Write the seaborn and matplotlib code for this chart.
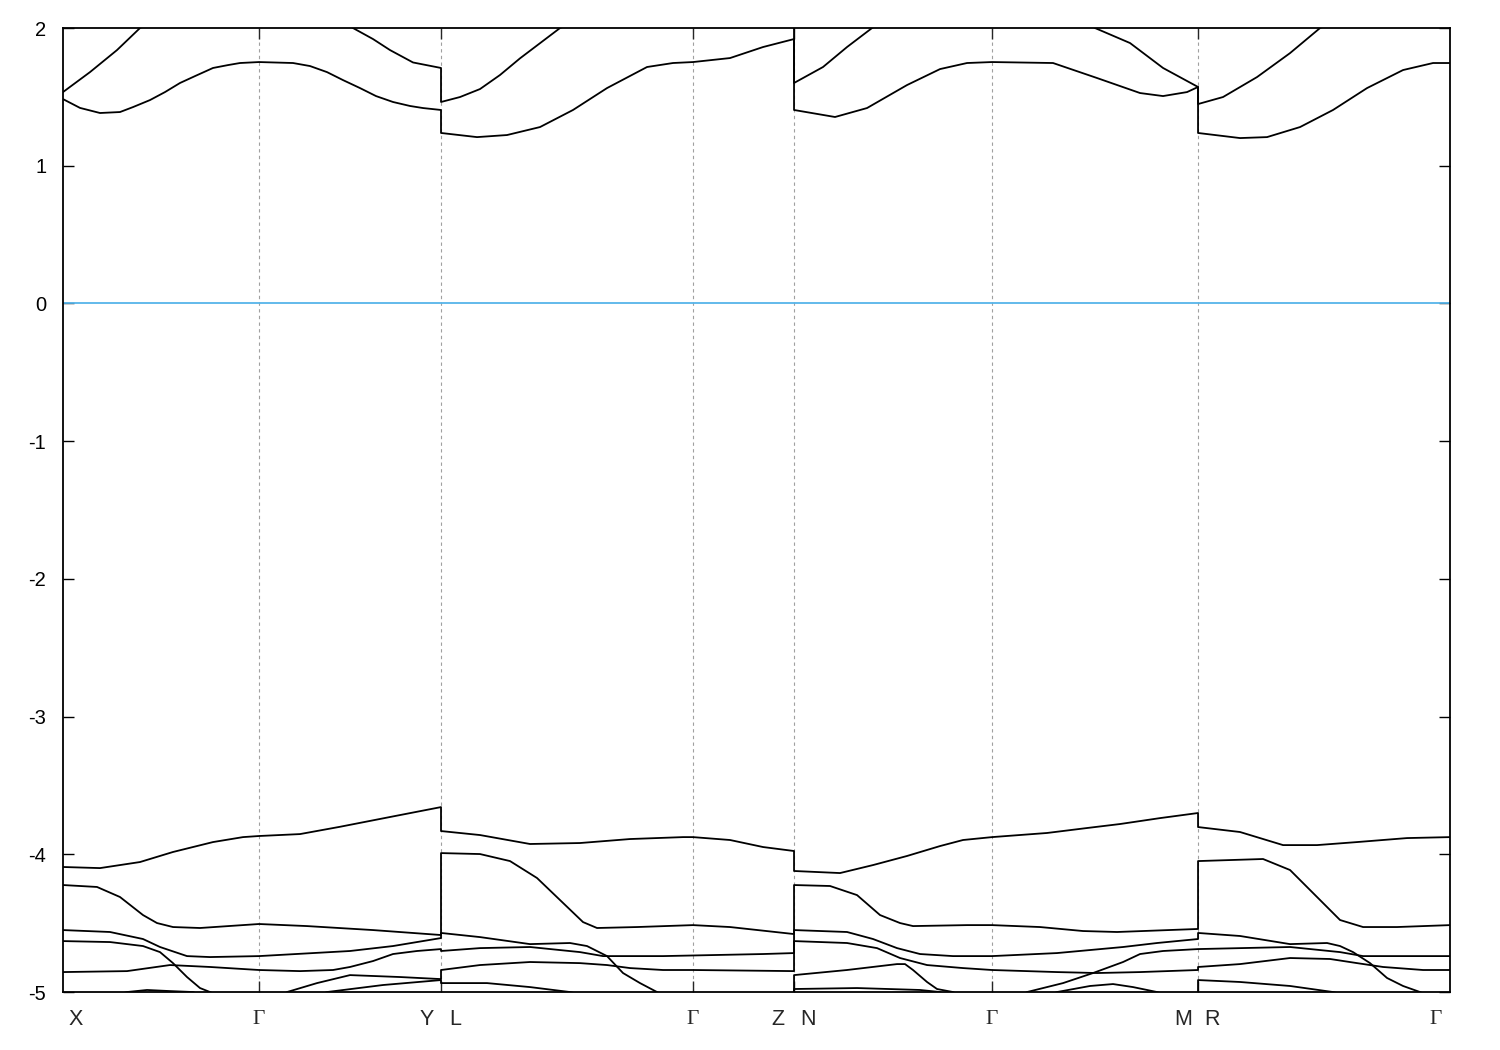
import numpy as np
import pandas as pd
import matplotlib
matplotlib.use("Agg")
import matplotlib.pyplot as plt
import seaborn as sns
from matplotlib import transforms

sns.set_style("white")
plt.rcParams["font.family"] = ["Liberation Sans", "DejaVu Sans"]
plt.rcParams["axes.unicode_minus"] = False

# -------------------------------------------------------------------------
# k-path (arbitrary path length) and labels
# -------------------------------------------------------------------------
KPATH_END = 1.387
KPOINT_INNER = [0.196, 0.378, 0.630, 0.731, 0.929, 1.135]
LABEL_K = [0.000, 0.196, 0.378, 0.378, 0.630, 0.731, 0.731, 0.929, 1.135, 1.135, 1.387]
LABEL_TXT = ["X", "Γ", "Y", "L", "Γ", "Z", "N", "Γ", "M", "R", "Γ"]

# -------------------------------------------------------------------------
# bands (energy in eV); each band runs X→...→Γ
# -------------------------------------------------------------------------
CB2_K = [0.000, 0.027, 0.054, 0.077, 0.196, 0.290, 0.310, 0.327, 0.350, 0.378,
         0.378, 0.397, 0.417, 0.437, 0.457, 0.497, 0.630, 0.731,
         0.731, 0.760, 0.784, 0.809, 0.929, 1.032, 1.067, 1.100, 1.135,
         1.135, 1.160, 1.194, 1.227, 1.257, 1.387]
CB2_E = [1.535, 1.680, 1.840, 2.000, 2.500, 2.000, 1.920, 1.840, 1.750, 1.710,
         1.463, 1.499, 1.557, 1.659, 1.780, 2.000, 2.450, 2.300,
         1.601, 1.717, 1.862, 2.000, 2.500, 2.000, 1.891, 1.710, 1.572,
         1.448, 1.499, 1.644, 1.818, 2.000, 2.500]

CB1_K = [0.000, 0.017, 0.037, 0.057, 0.070, 0.087, 0.102, 0.117, 0.132, 0.150, 0.165, 0.177, 0.196,
         0.230, 0.247, 0.264, 0.280, 0.297, 0.313, 0.330, 0.347, 0.360, 0.378,
         0.378, 0.414, 0.444, 0.477, 0.510, 0.544, 0.584, 0.610, 0.630, 0.667, 0.700, 0.731,
         0.731, 0.772, 0.804, 0.844, 0.877, 0.904, 0.929, 0.990, 1.034, 1.077, 1.100, 1.124, 1.135,
         1.135, 1.177, 1.204, 1.237, 1.270, 1.304, 1.340, 1.370, 1.387]
CB1_E = [1.484, 1.420, 1.383, 1.390, 1.426, 1.477, 1.535, 1.601, 1.651, 1.710, 1.731, 1.746, 1.753,
         1.746, 1.724, 1.680, 1.622, 1.564, 1.506, 1.463, 1.434, 1.419, 1.405,
         1.238, 1.208, 1.223, 1.281, 1.405, 1.564, 1.717, 1.746, 1.753, 1.782, 1.862, 1.920,
         1.405, 1.354, 1.419, 1.586, 1.702, 1.746, 1.753, 1.746, 1.637, 1.528, 1.506, 1.535, 1.572,
         1.238, 1.201, 1.208, 1.281, 1.405, 1.564, 1.695, 1.746, 1.746]

VB1_K = [0.000, 0.037, 0.077, 0.110, 0.150, 0.180, 0.196, 0.237, 0.277, 0.327, 0.378,
         0.378, 0.417, 0.467, 0.517, 0.567, 0.620, 0.630, 0.667, 0.700, 0.731,
         0.731, 0.777, 0.810, 0.844, 0.877, 0.900, 0.929, 0.984, 1.024, 1.057, 1.097, 1.135,
         1.135, 1.177, 1.220, 1.254, 1.294, 1.344, 1.387]
VB1_E = [-4.092, -4.100, -4.056, -3.983, -3.911, -3.875, -3.867, -3.853, -3.800, -3.729, -3.657,
         -3.831, -3.860, -3.925, -3.918, -3.889, -3.875, -3.875, -3.896, -3.947, -3.976,
         -4.121, -4.136, -4.078, -4.012, -3.940, -3.896, -3.875, -3.845, -3.809, -3.780, -3.737, -3.700,
         -3.802, -3.838, -3.933, -3.933, -3.911, -3.882, -3.875]

VB2_K = [0.000, 0.034, 0.057, 0.080, 0.094, 0.110, 0.137, 0.196, 0.244, 0.310, 0.378,
         0.378, 0.417, 0.447, 0.474, 0.497, 0.520, 0.534, 0.574, 0.630, 0.667, 0.731,
         0.731, 0.767, 0.794, 0.817, 0.837, 0.850, 0.904, 0.929, 0.977, 1.020, 1.054, 1.135,
         1.135, 1.200, 1.227, 1.254, 1.277, 1.300, 1.334, 1.387]
VB2_E = [-4.223, -4.237, -4.310, -4.441, -4.499, -4.528, -4.535, -4.506, -4.521, -4.550, -4.586,
         -3.991, -3.998, -4.049, -4.172, -4.332, -4.492, -4.535, -4.528, -4.514, -4.528, -4.579,
         -4.223, -4.230, -4.296, -4.441, -4.499, -4.521, -4.514, -4.514, -4.528, -4.557, -4.564, -4.542,
         -4.049, -4.034, -4.114, -4.310, -4.477, -4.528, -4.528, -4.514]

VB3_K = [0.000, 0.047, 0.080, 0.097, 0.124, 0.147, 0.196, 0.287, 0.330, 0.378,
         0.378, 0.417, 0.467, 0.507, 0.524, 0.544, 0.560, 0.577, 0.594, 0.630, 0.731,
         0.731, 0.784, 0.834, 0.842, 0.850, 0.864, 0.874, 0.890, 0.929, 0.964, 1.000, 1.030, 1.060, 1.077, 1.100, 1.135,
         1.135, 1.227, 1.277, 1.300, 1.344, 1.387]
VB3_E = [-4.550, -4.564, -4.615, -4.673, -4.739, -4.746, -4.739, -4.702, -4.666, -4.608,
         -4.571, -4.601, -4.652, -4.644, -4.666, -4.739, -4.862, -4.935, -5.000, -5.150, -5.250,
         -4.877, -4.840, -4.797, -4.797, -4.840, -4.927, -4.978, -5.000, -5.150, -5.000, -4.935, -4.862, -4.782, -4.724, -4.702, -4.688,
         -4.688, -4.673, -4.710, -4.739, -4.739, -4.739]

VB4_K = [0.000, 0.047, 0.080, 0.097, 0.110, 0.124, 0.137, 0.147, 0.196, 0.224, 0.254, 0.287, 0.337, 0.378,
         0.378, 0.417, 0.467, 0.517, 0.544, 0.567, 0.600, 0.630, 0.731,
         0.731, 0.784, 0.814, 0.837, 0.864, 0.900, 0.929, 0.994, 1.034, 1.077, 1.135,
         1.135, 1.177, 1.227, 1.267, 1.294, 1.320, 1.360, 1.387]
VB4_E = [-4.630, -4.637, -4.666, -4.710, -4.790, -4.891, -4.971, -5.000, -5.150, -5.000, -4.935, -4.877, -4.891, -4.906,
         -4.840, -4.804, -4.782, -4.790, -4.804, -4.826, -4.840, -4.840, -4.848,
         -4.630, -4.644, -4.681, -4.753, -4.804, -4.826, -4.840, -4.855, -4.862, -4.855, -4.840,
         -4.818, -4.797, -4.753, -4.760, -4.790, -4.818, -4.840, -4.840]

VB5_K = [0.000, 0.064, 0.107, 0.147, 0.196, 0.237, 0.270, 0.287, 0.310, 0.330, 0.354, 0.378,
         0.378, 0.417, 0.467, 0.517, 0.540, 0.600, 0.700, 0.731,
         0.731, 0.784, 0.810, 0.834, 0.857, 0.890, 0.929, 0.994, 1.060, 1.094, 1.135,
         1.135, 1.177, 1.227, 1.264, 1.277, 1.290, 1.307, 1.324, 1.340, 1.357, 1.387]
VB5_E = [-4.855, -4.848, -4.804, -4.818, -4.840, -4.848, -4.840, -4.818, -4.775, -4.724, -4.702, -4.688,
         -4.702, -4.681, -4.673, -4.710, -4.739, -4.739, -4.724, -4.717,
         -4.550, -4.564, -4.615, -4.681, -4.724, -4.739, -4.739, -4.717, -4.673, -4.644, -4.615,
         -4.571, -4.593, -4.652, -4.644, -4.666, -4.710, -4.790, -4.898, -4.956, -5.000, -5.100]

VB6_K = [0.000, 0.040, 0.064, 0.084, 0.107, 0.130, 0.196, 0.264, 0.320, 0.378,
         0.378, 0.424, 0.467, 0.507, 0.630, 0.731,
         0.731, 0.794, 0.857, 0.877, 0.929, 0.994, 1.027, 1.050, 1.070, 1.094, 1.135,
         1.135, 1.177, 1.227, 1.270, 1.387]
VB6_E = [-5.150, -5.050, -5.000, -4.985, -4.993, -5.000, -5.200, -5.000, -4.949, -4.913,
         -4.935, -4.935, -4.964, -5.000, -5.200, -5.250,
         -4.978, -4.971, -4.985, -5.000, -5.200, -5.000, -4.956, -4.942, -4.964, -5.000, -5.100,
         -4.913, -4.927, -4.956, -5.000, -5.200]

FERMI_LEVEL = 0.0


def build_frame():
    bands = [(CB2_K, CB2_E), (CB1_K, CB1_E), (VB1_K, VB1_E), (VB2_K, VB2_E),
             (VB3_K, VB3_E), (VB4_K, VB4_E), (VB5_K, VB5_E), (VB6_K, VB6_E)]
    frames = [pd.DataFrame({"k": k, "E": e, "band": i}) for i, (k, e) in enumerate(bands)]
    return pd.concat(frames, ignore_index=True)


def main():
    df = build_frame()

    fig, ax = plt.subplots(figsize=(15, 10.5), dpi=100)
    fig.subplots_adjust(left=0.042, right=0.9667, top=0.9733, bottom=0.0552)

    # dashed guides at the high-symmetry points
    for k in KPOINT_INNER:
        ax.axvline(k, color="#a0a0a0", ls=(0, (3, 3)), lw=0.8, zorder=0)

    sns.lineplot(data=df, x="k", y="E", units="band", estimator=None, sort=False,
                 color="black", lw=1.3, ax=ax, legend=False)
    ax.axhline(FERMI_LEVEL, color="#56b4e9", lw=1.3)

    ax.set_xlim(0, KPATH_END)
    ax.set_ylim(-5, 2)
    ax.set_xlabel("")
    ax.set_ylabel("")

    ax.set_yticks(np.arange(-5, 3))
    ax.set_yticklabels([str(v) for v in range(-5, 3)])
    ax.tick_params(axis="y", direction="in", length=8, width=1, left=True, right=True,
                   labelsize=14.5, pad=12, colors="black")
    ax.set_xticks(KPOINT_INNER)
    ax.set_xticklabels([])
    ax.tick_params(axis="x", direction="in", length=8, width=1, top=True, bottom=True)

    for sp in ax.spines.values():
        sp.set_color("black")
        sp.set_linewidth(1.3)

    # k-point labels (offset from split points like gnuplot)
    label_dx = [13, 0, -14, 14, 0, -16, 14, 0, -15, 14, -14]   # px
    trans = transforms.blended_transform_factory(ax.transData, ax.transAxes)
    for k, txt, dx in zip(LABEL_K, LABEL_TXT, label_dx):
        fam = ["Liberation Serif", "DejaVu Serif"] if txt == "Γ" else ["Liberation Sans", "DejaVu Sans"]
        ax.annotate(txt, xy=(k, 0), xycoords=trans, xytext=(dx * 0.72, -20),
                    textcoords="offset points", ha="center", va="center",
                    fontsize=15.5, family=fam)

    fig.savefig("out.png", dpi=100)
    plt.close(fig)


if __name__ == "__main__":
    main()
